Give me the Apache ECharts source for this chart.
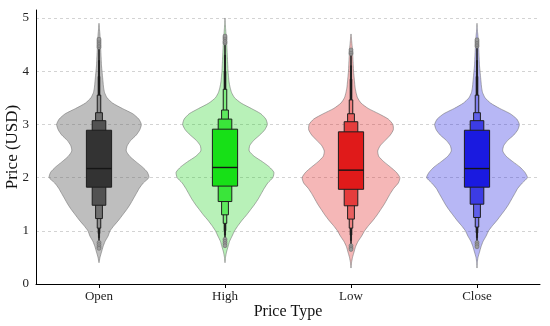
<!DOCTYPE html>
<html><head><meta charset="utf-8">
<script src="https://cdn.jsdelivr.net/npm/echarts@6/dist/echarts.min.js"></script>
<style>html,body{margin:0;padding:0;background:#fff}#c{width:550px;height:326px}</style>
</head><body><div id="c"></div>
<script>
const categories = ['Open', 'High', 'Low', 'Close'];
const yTicks = [0, 1, 2, 3, 4, 5];

// price grid for violin outlines (USD)
const densityPrices = [0.3,0.4,0.5,0.6,0.7,0.8,0.9,1.0,1.1,1.2,1.3,1.4,1.5,1.6,1.7,1.8,1.9,2.0,2.1,2.2,2.3,2.4,2.5,2.6,2.7,2.8,2.9,3.0,3.1,3.2,3.3,3.4,3.5,3.6,3.7,3.8,3.9,4.0,4.1,4.2,4.3,4.4,4.5,4.6,4.7,4.8,4.9,5.0];

// relative density (1 = widest violin)
const openDensity  = [0,0,0.02,0.05,0.08,0.12,0.18,0.22,0.30,0.39,0.47,0.55,0.62,0.68,0.74,0.80,0.88,0.99,0.96,0.86,0.73,0.61,0.54,0.56,0.63,0.74,0.81,0.84,0.79,0.67,0.46,0.27,0.16,0.11,0.09,0.08,0.07,0.06,0.05,0.045,0.04,0.035,0.03,0.025,0.018,0.008,0,0];
const highDensity  = [0,0,0.01,0.03,0.06,0.09,0.14,0.19,0.26,0.34,0.43,0.51,0.59,0.66,0.72,0.78,0.85,0.95,0.97,0.88,0.74,0.58,0.48,0.49,0.57,0.69,0.79,0.84,0.81,0.71,0.52,0.32,0.19,0.13,0.10,0.08,0.07,0.06,0.055,0.05,0.045,0.04,0.035,0.03,0.02,0.012,0.004,0];
const lowDensity   = [0,0.01,0.03,0.06,0.09,0.14,0.21,0.27,0.35,0.44,0.52,0.59,0.66,0.72,0.78,0.85,0.94,0.97,0.90,0.78,0.65,0.55,0.53,0.58,0.68,0.78,0.84,0.83,0.74,0.55,0.34,0.20,0.13,0.10,0.08,0.07,0.06,0.05,0.045,0.04,0.035,0.03,0.02,0.01,0,0,0,0];
const closeDensity = [0,0.005,0.02,0.05,0.08,0.12,0.18,0.23,0.31,0.40,0.48,0.56,0.63,0.69,0.75,0.81,0.90,1.00,0.95,0.85,0.71,0.58,0.51,0.53,0.61,0.73,0.81,0.84,0.79,0.66,0.45,0.27,0.16,0.11,0.09,0.08,0.07,0.06,0.05,0.045,0.04,0.035,0.03,0.025,0.015,0.004,0,0];

// letter-value boxes [lower, upper], innermost first
const openBoxen  = [[1.82,2.89],[1.48,3.07],[1.23,3.22],[1.05,3.55],[0.95,3.90],[0.87,4.20],[0.80,4.45]];
const highBoxen  = [[1.84,2.91],[1.55,3.10],[1.30,3.27],[1.14,3.66],[1.00,4.00],[0.92,4.30],[0.85,4.53]];
const lowBoxen   = [[1.78,2.86],[1.47,3.05],[1.22,3.20],[1.05,3.46],[0.92,3.85],[0.82,4.10],[0.73,4.32]];
const closeBoxen = [[1.82,2.89],[1.50,3.07],[1.25,3.22],[1.07,3.55],[0.96,3.90],[0.87,4.20],[0.79,4.46]];
const medians = [2.17, 2.19, 2.14, 2.17];

const openOutliers  = [4.45,4.48,4.51,4.54,4.57,4.60,0.78,0.74,0.70,0.67];
const highOutliers  = [4.53,4.56,4.60,4.63,4.66,0.84,0.80,0.76,0.72];
const lowOutliers   = [4.33,4.36,4.40,0.72,0.68,0.65];
const closeOutliers = [4.47,4.50,4.53,4.56,4.59,0.78,0.74,0.70];

const densities = [openDensity, highDensity, lowDensity, closeDensity];
const boxens = [openBoxen, highBoxen, lowBoxen, closeBoxen];
const outliers = [openOutliers, highOutliers, lowOutliers, closeOutliers];

const mainColors = [[51,51,51],[23,224,23],[224,26,26],[26,26,224]];
const violinFills = ['rgba(100,100,100,0.42)','rgba(20,210,20,0.30)','rgba(225,30,30,0.32)','rgba(30,30,225,0.32)'];
const widthFactors = [1, 0.54, 0.27, 0.14, 0.07, 0.045, 0.03];
const FONT = '"Liberation Serif", "DejaVu Serif", serif';

function lighten(c, f) {
  return 'rgb(' + c.map(v => Math.round(v + (255 - v) * f)).join(',') + ')';
}

function renderItem(params, api) {
  const idx = api.value(0);
  const bw = api.size([1, 0])[0];
  const cx = api.coord([idx, 0])[0];
  const dens = densities[idx];
  const half = bw * 0.4;
  let first = 0, last = dens.length - 1;
  while (first < dens.length - 1 && dens[first + 1] === 0) first++;
  while (last > 0 && dens[last - 1] === 0) last--;
  const right = [], left = [];
  for (let i = first; i <= last; i++) {
    const y = api.coord([idx, densityPrices[i]])[1];
    right.push([cx + dens[i] * half, y]);
    left.push([cx - dens[i] * half, y]);
  }
  const pts = right.concat(left.reverse());
  const children = [{
    type: 'polygon',
    shape: { points: pts, smooth: 0.2 },
    style: { fill: violinFills[idx], stroke: 'rgba(110,110,110,0.55)', lineWidth: 1 }
  }];
  const levels = boxens[idx];
  const boxHalf = bw * 0.1;
  for (let k = levels.length - 1; k >= 0; k--) {
    const hw = boxHalf * widthFactors[k];
    const yU = api.coord([idx, levels[k][1]])[1];
    const yL = api.coord([idx, levels[k][0]])[1];
    children.push({
      type: 'rect',
      shape: { x: cx - hw, y: yU, width: hw * 2, height: yL - yU },
      style: { fill: k > 3 ? '#1e1e1e' : lighten(mainColors[idx], 0.15 * k), stroke: '#1e1e1e', lineWidth: k > 3 ? 0.7 : 1 }
    });
  }
  const ym = api.coord([idx, medians[idx]])[1];
  children.push({
    type: 'line',
    shape: { x1: cx - boxHalf, y1: ym, x2: cx + boxHalf, y2: ym },
    style: { stroke: '#151515', lineWidth: 1.4 }
  });
  return { type: 'group', children };
}

const outlierData = [];
outliers.forEach((arr, i) => arr.forEach(v => outlierData.push([i, v])));

const chart = echarts.init(document.getElementById('c'));
chart.setOption({
  animation: false,
  backgroundColor: '#fff',
  grid: { left: 36, right: 10, top: 10, bottom: 42, containLabel: false, outerBoundsMode: 'none' },
  xAxis: {
    type: 'category',
    data: categories,
    boundaryGap: true,
    axisLine: { lineStyle: { color: '#000', width: 1 } },
    axisTick: { show: true, alignWithLabel: true, length: 4, lineStyle: { color: '#000' } },
    axisLabel: { color: '#222', fontFamily: FONT, fontSize: 13, margin: 6 },
    splitLine: { show: false },
    name: 'Price Type',
    nameLocation: 'middle',
    nameMoveOverlap: false,
    nameGap: 20,
    nameTextStyle: { color: '#111', fontFamily: FONT, fontSize: 16 }
  },
  yAxis: {
    type: 'value',
    min: 0,
    max: 5.15,
    interval: 1,
    axisLine: { show: true, lineStyle: { color: '#000', width: 1 } },
    axisTick: { show: false },
    axisLabel: {
      color: '#222', fontFamily: FONT, fontSize: 13, margin: 7,
      formatter: v => (yTicks.indexOf(v) >= 0 ? String(v) : '')
    },
    splitLine: { show: false },
    name: 'Price (USD)',
    nameLocation: 'middle',
    nameMoveOverlap: false,
    nameGap: 15,
    nameTextStyle: { color: '#111', fontFamily: FONT, fontSize: 17 }
  },
  series: [
    {
      type: 'line',
      data: [],
      z: 0,
      silent: true,
      markLine: {
        silent: true,
        z: 0,
        symbol: ['none', 'none'],
        label: { show: false },
        lineStyle: { color: '#c8c8c8', type: [3, 3], width: 0.8 },
        data: yTicks.slice(1).map(v => ({ yAxis: v }))
      }
    },
    {
      type: 'custom',
      z: 2,
      renderItem: renderItem,
      data: categories.map((c, i) => [i]),
      encode: { x: 0 }
    },
    {
      type: 'scatter',
      z: 3,
      symbol: 'circle',
      symbolSize: 4,
      itemStyle: { color: '#9a9a9a', borderColor: '#6a6a6a', borderWidth: 0.6, opacity: 1 },
      data: outlierData
    }
  ]
});
</script>
</body></html>
